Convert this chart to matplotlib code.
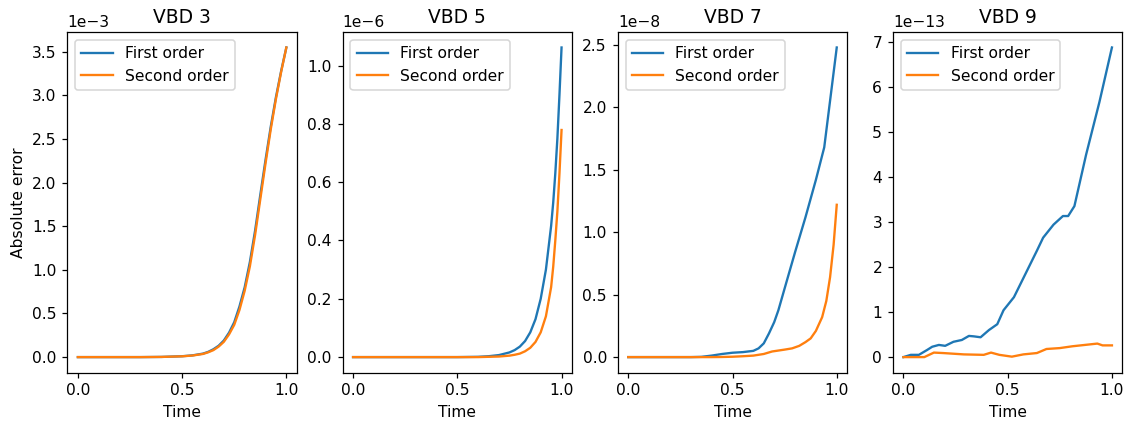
import numpy as np
import matplotlib
matplotlib.use("Agg")
import matplotlib.pyplot as plt

# VBD 3 (x1e-3)
t3 = [0.0, 0.1, 0.2, 0.3, 0.4, 0.5, 0.55, 0.6, 0.625, 0.65, 0.675, 0.7, 0.725, 0.75,
      0.775, 0.8, 0.825, 0.85, 0.875, 0.9, 0.925, 0.95, 0.975, 1.0]
first3 = [0.0, 0.0, 0.0, 0.0, 0.002, 0.01, 0.02, 0.04, 0.06, 0.09, 0.13, 0.19, 0.28, 0.40,
          0.58, 0.80, 1.09, 1.45, 1.86, 2.26, 2.64, 2.98, 3.28, 3.55]
second3 = [0.0, 0.0, 0.0, 0.0, 0.002, 0.009, 0.018, 0.036, 0.055, 0.08, 0.12, 0.175, 0.26, 0.37,
           0.54, 0.76, 1.04, 1.40, 1.81, 2.22, 2.61, 2.96, 3.27, 3.55]

# VBD 5 (x1e-6)
t5 = [0.0, 0.1, 0.2, 0.3, 0.4, 0.5, 0.6, 0.65, 0.7, 0.75, 0.775, 0.8, 0.825, 0.85, 0.875,
      0.9, 0.925, 0.95, 0.96, 0.97, 0.98, 0.99, 1.0]
first5 = [0.0, 0.0, 0.0, 0.0, 0.0, 0.0, 0.001, 0.003, 0.007, 0.016, 0.024, 0.036, 0.055, 0.085, 0.13,
          0.20, 0.30, 0.45, 0.53, 0.63, 0.75, 0.90, 1.062]
second5 = [0.0, 0.0, 0.0, 0.0, 0.0, 0.0, 0.0, 0.001, 0.002, 0.005, 0.008, 0.012, 0.02, 0.032, 0.052,
           0.085, 0.14, 0.24, 0.31, 0.40, 0.50, 0.63, 0.779]

# VBD 7 (x1e-8)
t7 = [0.0, 0.1, 0.2, 0.3, 0.35, 0.4, 0.45, 0.5, 0.55, 0.6, 0.625, 0.65, 0.675, 0.7, 0.72,
      0.75, 0.8, 0.85, 0.9, 0.94, 1.0]
first7 = [0.0, 0.0, 0.0, 0.0, 0.002, 0.012, 0.025, 0.035, 0.04, 0.05, 0.07, 0.11, 0.19, 0.28, 0.375,
          0.55, 0.84, 1.12, 1.42, 1.68, 2.48]
t7b = [0.0, 0.1, 0.2, 0.3, 0.4, 0.45, 0.5, 0.55, 0.6, 0.65, 0.69, 0.75, 0.786, 0.82, 0.85,
       0.875, 0.9, 0.93, 0.95, 0.968, 0.985, 1.0]
second7 = [0.0, 0.0, 0.0, 0.0, 0.0, 0.001, 0.003, 0.007, 0.012, 0.025, 0.045, 0.06, 0.07, 0.09, 0.12,
           0.15, 0.21, 0.32, 0.45, 0.64, 0.90, 1.22]

# VBD 9 (x1e-13)
t9a = [0.0, 0.035, 0.074, 0.114, 0.138, 0.17, 0.2, 0.24, 0.28, 0.314, 0.338, 0.37, 0.41, 0.45,
       0.48, 0.53, 0.577, 0.64, 0.67, 0.72, 0.765, 0.79, 0.82, 0.876, 0.94, 1.0]
first9 = [0.0, 0.05, 0.05, 0.16, 0.23, 0.27, 0.25, 0.34, 0.38, 0.47, 0.46, 0.44, 0.60, 0.73,
          1.04, 1.33, 1.77, 2.36, 2.65, 2.94, 3.13, 3.13, 3.35, 4.49, 5.66, 6.87]
t9b = [0.0, 0.1, 0.146, 0.19, 0.29, 0.385, 0.42, 0.46, 0.52, 0.575, 0.64, 0.686, 0.75, 0.81, 0.89, 0.93, 0.955, 1.0]
second9 = [0.0, 0.0, 0.1, 0.09, 0.06, 0.05, 0.1, 0.05, 0.01, 0.06, 0.09, 0.18, 0.2, 0.24, 0.28, 0.30, 0.26, 0.26]

panels = [
    ("VBD 3", t3, first3, t3, second3, 1e-3),
    ("VBD 5", t5, first5, t5, second5, 1e-6),
    ("VBD 7", t7, first7, t7b, second7, 1e-8),
    ("VBD 9", t9a, first9, t9b, second9, 1e-13),
]

dpi = 112
fig, axes = plt.subplots(1, 4, figsize=(1128 / dpi, 421 / dpi), dpi=dpi)
fig.subplots_adjust(left=0.0598, right=0.995, bottom=0.115, top=0.924, wspace=0.2)

for ax, (title, ta, ya, tb, yb, scale) in zip(axes, panels):
    ax.plot(ta, np.array(ya) * scale, label="First order")
    ax.plot(tb, np.array(yb) * scale, label="Second order")
    ax.set_title(title)
    ax.set_xlabel("Time")
    ax.set_xticks([0.0, 0.5, 1.0])
    ax.ticklabel_format(axis="y", style="sci", scilimits=(0, 0))
    ax.legend(loc="upper left")

axes[0].set_ylabel("Absolute error")

fig.savefig("out.png", dpi=dpi)
